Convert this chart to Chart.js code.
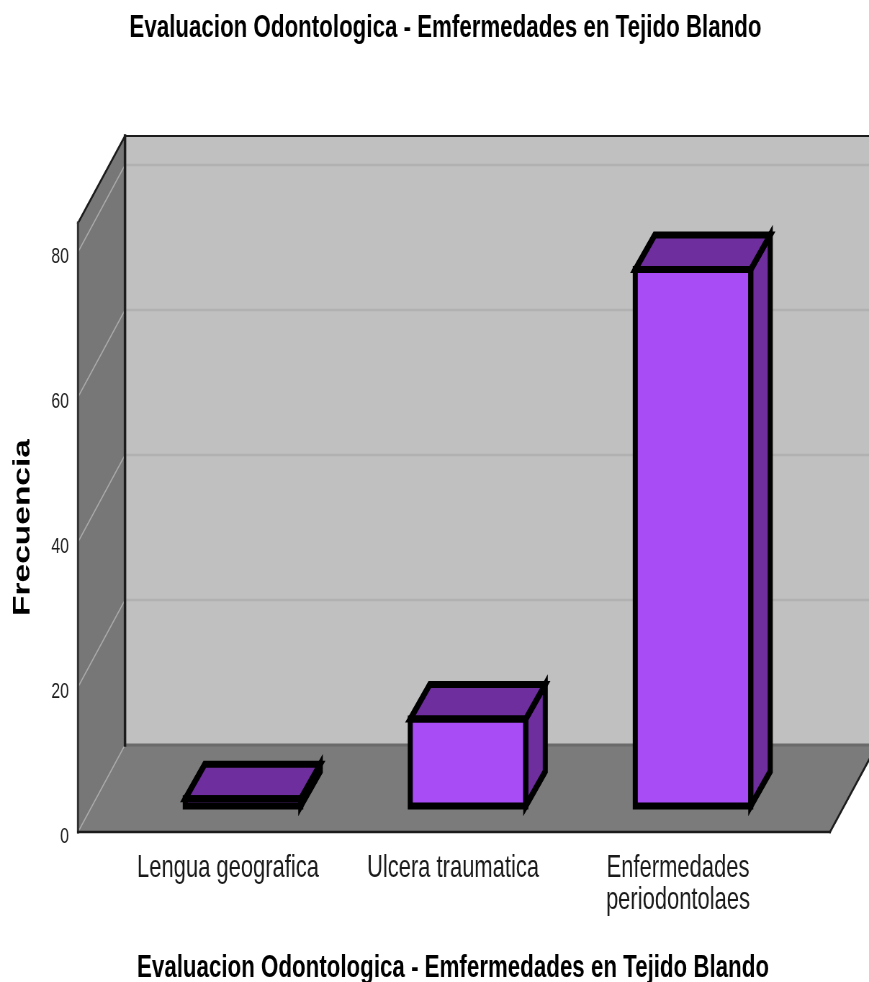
<!DOCTYPE html>
<html>
<head>
<meta charset="utf-8">
<title>Evaluacion Odontologica</title>
<script src="https://cdn.jsdelivr.net/npm/chart.js@4"></script>
<style>
  html, body { margin: 0; padding: 0; background: #fff; overflow: hidden; }
</style>
</head>
<body>
<canvas id="chart" width="1207" height="982" style="width:869px;height:982px;display:block"></canvas>
<script>
// Data
const chartTitle = 'Evaluacion Odontologica - Emfermedades en Tejido Blando';
const axisTitleY = 'Frecuencia';
const categories = ['Lengua geografica', 'Ulcera traumatica', ['Enfermedades', 'periodontolaes']];
const frequencies = [1, 12, 74];

// The canvas is drawn wide and narrowed by CSS, which gives the condensed lettering.
const squeeze = 869 / 1207;
const sx = v => v / squeeze;

// Box geometry, in page pixels.
const wallDepth = { x: sx(47), y: -87 };
const floorOverhang = { left: sx(37.5), right: sx(39.5) };
const barShift = { x: sx(15), y: -26 };
const barDepth = { x: sx(19.5), y: -34.5 };
const barOutline = 7;

const colors = {
  backWall: '#c0c0c0', sideWall: '#777777', floor: '#7b7b7b',
  backGrid: '#b1b1b1', sideGrid: '#aaaaaa', edge: '#1c1c1c', floorSeam: '#6a6a6a',
  barFront: '#a84cf5', barShade: '#6e2e9e', barEdge: '#000000'
};

function poly(ctx, pts, fill, stroke, width) {
  ctx.beginPath();
  pts.forEach((p, i) => (i ? ctx.lineTo(p[0], p[1]) : ctx.moveTo(p[0], p[1])));
  ctx.closePath();
  if (fill) { ctx.fillStyle = fill; ctx.fill(); }
  if (stroke) { ctx.strokeStyle = stroke; ctx.lineWidth = width; ctx.stroke(); }
}

function line(ctx, a, b, color, width) {
  ctx.beginPath();
  ctx.moveTo(a[0], a[1]);
  ctx.lineTo(b[0], b[1]);
  ctx.strokeStyle = color;
  ctx.lineWidth = width;
  ctx.stroke();
}

// Draws the walls and floor of the 3D box behind the bars.
const boxPlugin = {
  id: 'box3d',
  afterLayout(chart) {
    // Centre the heading over the whole box rather than the reserved layout width.
    const block = chart.titleBlock;
    block.left += sx(50.25);
    block.right += sx(50.25);
  },
  beforeDatasetsDraw(chart) {
    const { ctx, chartArea: a, scales: { y } } = chart;
    const d = wallDepth;
    const fl = a.left - floorOverhang.left;
    const fr = a.right + floorOverhang.right;
    const bot = y.getPixelForValue(0);
    const top = a.top;
    const back = px => [fl + d.x, px + d.y];

    ctx.save();
    poly(ctx, [[fl + d.x, top + d.y], [chart.width + 10, top + d.y], [chart.width + 10, bot + d.y], [fl + d.x, bot + d.y]], colors.backWall);
    poly(ctx, [[fl, top], back(top), back(bot), [fl, bot]], colors.sideWall);
    poly(ctx, [[fl, bot], back(bot), [fr + d.x, bot + d.y], [fr, bot]], colors.floor);

    y.ticks.forEach(t => {
      const py = y.getPixelForValue(t.value);
      line(ctx, [fl, py], back(py), colors.sideGrid, 1.5);
      if (t.value > 0) {
        line(ctx, back(py), [chart.width + 10, py + d.y], colors.backGrid, 2.5);
      }
    });

    line(ctx, back(bot), [chart.width + 10, bot + d.y], colors.floorSeam, 3);
    ctx.lineCap = 'square';
    line(ctx, back(top), back(bot), colors.edge, 3.5);
    line(ctx, [fl, top], back(top), colors.edge, 2.5);
    line(ctx, back(top), [chart.width + 10, top + d.y], colors.edge, 2);
    line(ctx, [fl, top], [fl, bot], '#333333', 3);
    line(ctx, [fl, bot], [fr, bot], colors.edge, 2.5);
    line(ctx, [fr, bot], [fr + d.x, bot + d.y], colors.edge, 2.5);
    ctx.restore();
  },
  beforeDatasetDraw(chart) {
    chart.ctx.save();
    chart.ctx.translate(barShift.x, barShift.y);
  },
  afterDatasetDraw(chart, args) {
    // Side and top faces plus the heavy outline, hung off each bar element.
    const ctx = chart.ctx;
    const dx = barDepth.x, dy = barDepth.y;
    ctx.lineJoin = 'miter';
    ctx.miterLimit = 6;
    args.meta.data.forEach(bar => {
      const l = bar.x - bar.width / 2, r = bar.x + bar.width / 2;
      const t = bar.y, b = bar.base;
      poly(ctx, [[r, t], [r + dx, t + dy], [r + dx, b + dy], [r, b]], colors.barShade, colors.barEdge, barOutline);
      poly(ctx, [[l, t], [l + dx, t + dy], [r + dx, t + dy], [r, t]], colors.barShade, colors.barEdge, barOutline);
      poly(ctx, [[l, t], [r, t], [r, b], [l, b]], null, colors.barEdge, barOutline);
    });
    ctx.restore();
  }
};

new Chart(document.getElementById('chart'), {
  type: 'bar',
  data: {
    labels: categories,
    datasets: [{
      data: frequencies,
      backgroundColor: colors.barFront,
      borderWidth: 0,
      barThickness: sx(115.5),
      clip: false
    }]
  },
  plugins: [boxPlugin],
  options: {
    responsive: false,
    animation: false,
    devicePixelRatio: 1,
    layout: { padding: { left: 0, right: sx(78.5), top: 0, bottom: 0 } },
    plugins: {
      legend: { display: false },
      tooltip: { enabled: false },
      title: {
        display: true,
        text: chartTitle,
        color: '#000',
        font: { family: 'Liberation Sans', size: 31, weight: 'bold', lineHeight: 1.2 },
        padding: { top: 9.4, bottom: 176.4 }
      }
    },
    scales: {
      x: {
        afterFit(scale) { scale.height = 150; },
        grid: { display: false, drawTicks: false },
        border: { display: false },
        ticks: {
          color: '#1a1a1a',
          maxRotation: 0,
          autoSkip: false,
          padding: 21,
          font: { family: 'Liberation Sans', size: 30.5, lineHeight: 1.05 }
        },
        title: {
          display: true,
          text: chartTitle,
          color: '#000',
          font: { family: 'Liberation Sans', size: 31, weight: 'bold', lineHeight: 0.9 },
          padding: 0
        }
      },
      y: {
        min: 0,
        max: 84,
        afterFit(scale) { scale.width = sx(115.5); },
        grid: { display: false, drawTicks: false },
        border: { display: false },
        ticks: {
          stepSize: 20,
          includeBounds: false,
          color: '#1a1a1a',
          padding: sx(46.5),
          labelOffset: 5,
          font: { family: 'Liberation Sans', size: 22 }
        },
        title: {
          display: true,
          text: axisTitleY,
          color: '#000',
          font: { family: 'Liberation Sans', size: 33.5, weight: 'bold', lineHeight: 1.2 },
          padding: { top: 11.5, bottom: 0 }
        }
      }
    }
  }
});
</script>
</body>
</html>
